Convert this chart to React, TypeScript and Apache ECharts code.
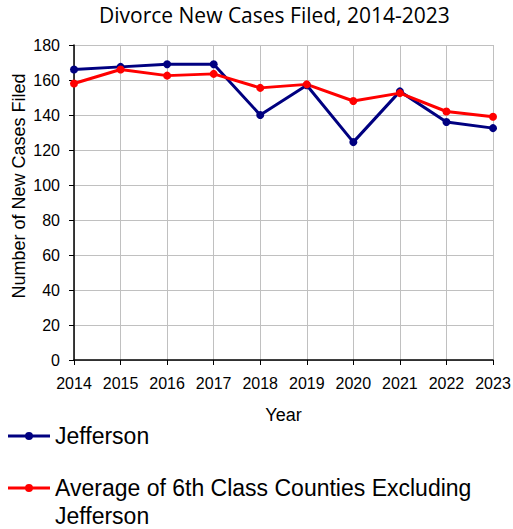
import React, { useEffect, useRef } from "react";
import * as echarts from "echarts";

const years = ["2014", "2015", "2016", "2017", "2018", "2019", "2020", "2021", "2022", "2023"];
const jefferson = [166, 167.5, 169, 169, 140, 157, 124.5, 153.5, 136, 132.5];
const average = [158, 166, 162.5, 163.5, 155.5, 157.5, 148, 152.5, 142, 139];
const seriesNames = ["Jefferson", "Average of 6th Class Counties Excluding Jefferson"];

const legendIcon =
  "path://M0,2.5 L42,2.5 L42,5.5 L0,5.5 Z M17,4 A4,4 0 1 1 25,4 A4,4 0 1 1 17,4 Z";

export default function App() {
  const ref = useRef<HTMLDivElement>(null);
  useEffect(() => {
    const chart = echarts.init(ref.current!, undefined, { renderer: "svg" });
    const axisFont = { fontFamily: "Liberation Sans", fontSize: 16, color: "#000" };
    const legendBase = {
      orient: "vertical",
      left: 8,
      padding: 0,
      itemWidth: 42,
      itemHeight: 8,
      icon: legendIcon,
      selectedMode: false,
    };
    chart.setOption({
      animation: false,
      backgroundColor: "#fff",
      title: {
        text: "Divorce New Cases Filed, 2014-2023",
        left: 94,
        top: -1,
        textStyle: { fontFamily: "Open Sans", fontSize: 21, fontWeight: "normal", color: "#000" },
      },
      grid: { left: 74, right: 20, top: 45, bottom: 169, containLabel: false, outerBoundsMode: "none" },
      xAxis: {
        type: "category",
        data: years,
        boundaryGap: false,
        name: "Year",
        nameLocation: "middle",
        nameGap: 46,
        nameMoveOverlap: false,
        nameTextStyle: { fontFamily: "Liberation Sans", fontSize: 18, color: "#000" },
        axisLine: { lineStyle: { color: "#000", width: 1.5 } },
        axisTick: { show: true, length: 5, lineStyle: { color: "#000" }, alignWithLabel: true },
        axisLabel: { ...axisFont, margin: 15, interval: 0 },
        splitLine: { show: true, lineStyle: { color: "#c0c0c0", width: 1 } },
      },
      yAxis: {
        type: "value",
        min: 0,
        max: 180,
        interval: 20,
        name: "Number of New Cases Filed",
        nameLocation: "middle",
        nameGap: 46,
        nameRotate: 90,
        nameMoveOverlap: false,
        nameTextStyle: { fontFamily: "Liberation Sans", fontSize: 18, color: "#000", padding: [0, 0, 0, 33] },
        axisLine: { show: true, lineStyle: { color: "#000", width: 1.5 } },
        axisTick: { show: true, length: 5, lineStyle: { color: "#000" } },
        axisLabel: { ...axisFont, margin: 14 },
        splitLine: { show: true, lineStyle: { color: "#c0c0c0", width: 1 } },
      },
      legend: [
        {
          ...legendBase,
          top: 423,
          textStyle: { fontFamily: "Liberation Sans", fontSize: 23, color: "#000", lineHeight: 26 },
          data: [seriesNames[0]],
        },
        {
          ...legendBase,
          top: 446,
          formatter: (name: string) => {
            const i = name.lastIndexOf(" ");
            return "\n" + name.slice(0, i) + "\n" + name.slice(i + 1);
          },
          textStyle: {
            fontFamily: "Liberation Sans",
            fontSize: 23,
            color: "#000",
            lineHeight: 28,
          },
          data: [seriesNames[1]],
        },
      ],
      series: [
        {
          name: seriesNames[0],
          type: "line",
          data: jefferson,
          color: "#000080",
          symbol: "circle",
          symbolSize: 8,
          lineStyle: { width: 3, color: "#000080" },
          itemStyle: { color: "#000080" },
        },
        {
          name: seriesNames[1],
          type: "line",
          data: average,
          color: "#ff0000",
          symbol: "circle",
          symbolSize: 8,
          lineStyle: { width: 3, color: "#ff0000" },
          itemStyle: { color: "#ff0000" },
        },
      ],
    });
    return () => chart.dispose();
  }, []);
  return <div ref={ref} style={{ width: 513, height: 529, position: "absolute", left: 0, top: 0 }} />;
}
